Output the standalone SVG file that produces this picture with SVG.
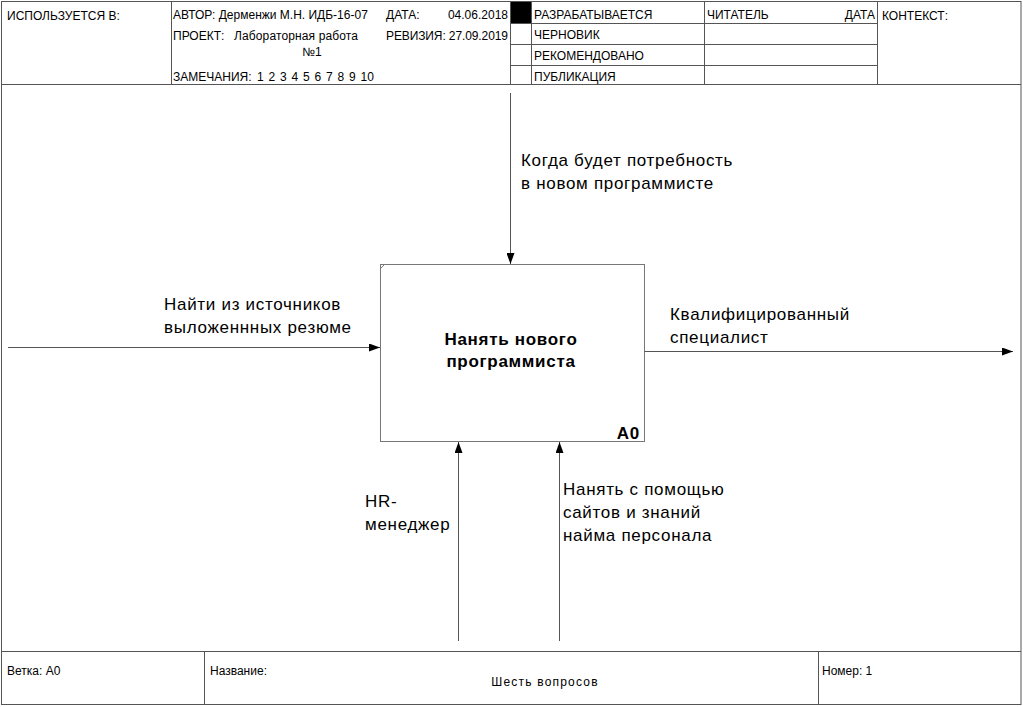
<svg xmlns="http://www.w3.org/2000/svg" width="1023" height="707" viewBox="0 0 1023 707">
<defs>
<marker id="ah" markerWidth="11" markerHeight="8" refX="11" refY="4" orient="auto" markerUnits="userSpaceOnUse">
<path d="M0,0 L11,4 L0,8 Z" fill="#000"/>
</marker>
<style>
.fr{stroke:#555;stroke-width:1;fill:none}
.t{font-family:"Liberation Sans",Arial,sans-serif;font-size:12px;fill:#000}
.f{font-family:"Liberation Sans",Arial,sans-serif;font-size:12px;fill:#000}
.l{font-family:"Liberation Sans",Arial,sans-serif;font-size:17px;letter-spacing:0.7px;fill:#000}
.b{font-family:"Liberation Sans",Arial,sans-serif;font-size:17px;letter-spacing:0.7px;font-weight:bold;fill:#000}
.c{stroke:#555;stroke-width:1;fill:none;marker-end:url(#ah)}
</style>
</defs>
<rect x="0" y="0" width="1023" height="707" fill="#fff"/>
<g id="header">
<rect class="fr" x="1.5" y="1.5" width="1019.5" height="703"/>
<line class="fr" x1="1.5" y1="84.5" x2="1021" y2="84.5"/>
<line class="fr" x1="171.5" y1="1.5" x2="171.5" y2="84.5"/>
<line class="fr" x1="510.5" y1="1.5" x2="510.5" y2="84.5"/>
<line class="fr" x1="531.5" y1="1.5" x2="531.5" y2="84.5"/>
<line class="fr" x1="704.5" y1="1.5" x2="704.5" y2="84.5"/>
<line class="fr" x1="877.5" y1="1.5" x2="877.5" y2="84.5"/>
<line class="fr" x1="510.5" y1="23.5" x2="877.5" y2="23.5"/>
<line class="fr" x1="510.5" y1="44.5" x2="877.5" y2="44.5"/>
<line class="fr" x1="510.5" y1="65.5" x2="877.5" y2="65.5"/>
<rect x="511" y="2" width="20" height="21" fill="#000"/>
<text class="t" x="7" y="20">ИСПОЛЬЗУЕТСЯ В:</text>
<text class="t" x="173" y="19">АВТОР: Дерменжи М.Н. ИДБ-16-07</text>
<text class="t" x="386" y="19">ДАТА:</text>
<text class="t" x="508" y="19" text-anchor="end">04.06.2018</text>
<text class="t" x="173" y="40">ПРОЕКТ:</text>
<text class="t" x="234" y="40" textLength="124" lengthAdjust="spacing">Лабораторная работа</text>
<text class="t" x="312" y="56" text-anchor="middle">№1</text>
<text class="t" x="386" y="40" textLength="122" lengthAdjust="spacing">РЕВИЗИЯ: 27.09.2019</text>
<text class="t" x="173" y="81">ЗАМЕЧАНИЯ:</text>
<text class="t" x="257" y="81" word-spacing="1.5">1 2 3 4 5 6 7 8 9 10</text>
<text class="t" x="534" y="19">РАЗРАБАТЫВАЕТСЯ</text>
<text class="t" x="534" y="39">ЧЕРНОВИК</text>
<text class="t" x="534" y="60">РЕКОМЕНДОВАНО</text>
<text class="t" x="534" y="81">ПУБЛИКАЦИЯ</text>
<text class="t" x="707" y="19">ЧИТАТЕЛЬ</text>
<text class="t" x="875" y="19" text-anchor="end">ДАТА</text>
<text class="t" x="882" y="20">КОНТЕКСТ:</text>
</g>
<g id="footer">
<line class="fr" x1="1.5" y1="651.5" x2="1021" y2="651.5"/>
<line class="fr" x1="204.5" y1="651.5" x2="204.5" y2="704.5"/>
<line class="fr" x1="818.5" y1="651.5" x2="818.5" y2="704.5"/>
<text class="f" x="7" y="675">Ветка:  A0</text>
<text class="f" x="210" y="675">Название:</text>
<text class="f" x="545" y="686" text-anchor="middle" letter-spacing="1.2">Шесть вопросов</text>
<text class="f" x="822" y="675">Номер:  1</text>
</g>
<g id="A0">
<rect x="380.5" y="264.5" width="264" height="177" fill="#fff" stroke="#777" stroke-width="1"/>
<line x1="380.5" y1="268.5" x2="384.5" y2="264.5" stroke="#777" stroke-width="1"/>
<text class="b" x="511" y="345" text-anchor="middle">Нанять нового</text>
<text class="b" x="511" y="367" text-anchor="middle">программиста</text>
<text class="b" x="640" y="439" text-anchor="end" letter-spacing="0">A0</text>
</g>
<g id="connectors">
<line class="c" x1="510.5" y1="93" x2="510.5" y2="264"/>
<line class="c" x1="8" y1="347.5" x2="380" y2="347.5"/>
<line class="c" x1="644.5" y1="351.5" x2="1013" y2="351.5"/>
<line class="c" x1="458.5" y1="641" x2="458.5" y2="442"/>
<line class="c" x1="559.5" y1="641" x2="559.5" y2="442"/>
<text class="l" x="521" y="166">Когда будет потребность</text>
<text class="l" x="521" y="189">в новом программисте</text>
<text class="l" x="164" y="310">Найти из источников</text>
<text class="l" x="164" y="333">выложеннных резюме</text>
<text class="l" x="670" y="320">Квалифицированный</text>
<text class="l" x="670" y="343">специалист</text>
<text class="l" x="365" y="507">HR-</text>
<text class="l" x="365" y="530">менеджер</text>
<text class="l" x="563" y="495">Нанять с помощью</text>
<text class="l" x="563" y="518">сайтов и знаний</text>
<text class="l" x="563" y="541">найма персонала</text>
</g>
</svg>
